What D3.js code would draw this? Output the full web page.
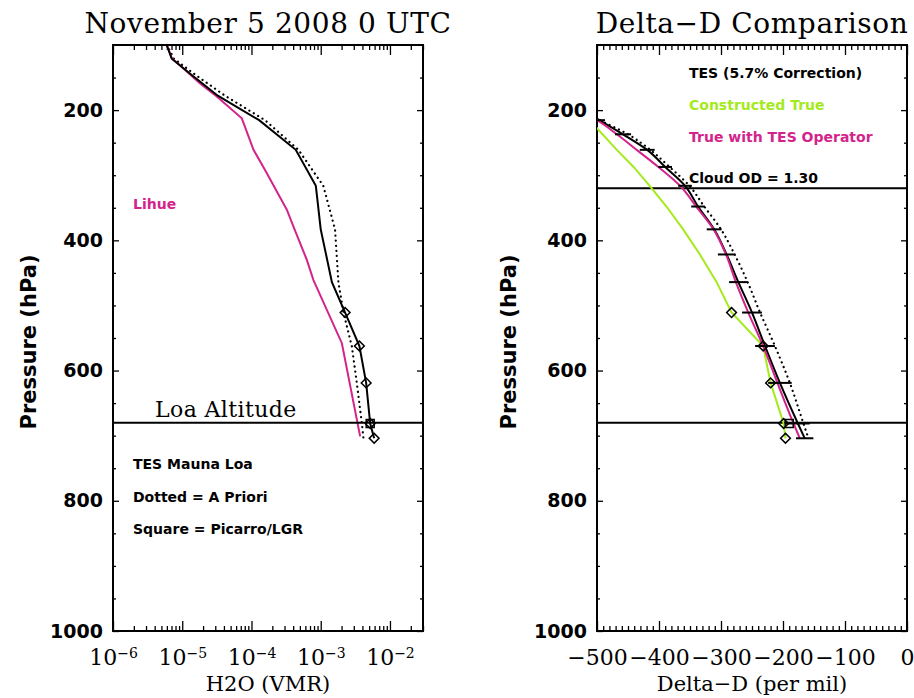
<!DOCTYPE html>
<html>
<head>
<meta charset="utf-8">
<script src="https://cdnjs.cloudflare.com/ajax/libs/d3/7.8.5/d3.min.js"></script>
<style>
body { margin: 0; background: #fff; }
.serif { font-family: "DejaVu Serif", serif; fill: #000; }
.lab { font-family: "DejaVu Sans", sans-serif; font-weight: bold; font-size: 14px; }
.ytick { font-family: "DejaVu Sans", sans-serif; font-weight: bold; font-size: 19px; fill: #000; }
.ytitle { font-family: "DejaVu Sans", sans-serif; font-weight: bold; font-size: 21px; fill: #000; }
</style>
</head>
<body>
<div id="chart"></div>
<script>
var width = 914, height = 698;
var magenta = "#d3248c", lime = "#a5ea1c";

// left panel: H2O profiles (pressure in hPa, VMR)
var tesLevels = [100, 121.15, 146.78, 177.83, 215.44, 261.02, 316.23, 383.12, 464.16, 510.90, 562.34, 618.95, 681.29, 704];
var tesH2O = [5.97e-6, 7.05e-6, 1.40e-5, 3.26e-5, 1.29e-4, 4.36e-4, 8.5e-4, 1.0e-3, 1.45e-3, 2.25e-3, 3.62e-3, 4.53e-3, 5.18e-3, 5.91e-3];
var aprioriH2O = [5.97e-6, 7.6e-6, 1.6e-5, 4.15e-5, 1.57e-4, 4.77e-4, 1.09e-3, 1.61e-3, 1.80e-3, 2.13e-3, 2.81e-3, 3.32e-3, 3.93e-3, 4.14e-3];
var lihuePressure = [100, 120, 159, 179, 212.6, 261, 292, 353, 379, 430, 461, 558, 701];
var lihueH2O = [5.97e-6, 7.05e-6, 1.81e-5, 3.15e-5, 7.25e-5, 1.07e-4, 1.57e-4, 3.24e-4, 4.04e-4, 6.3e-4, 7.85e-4, 2.02e-3, 3.71e-3];
var diamondLevels = [510.90, 562.34, 618.95, 681.29, 704];

// right panel: delta-D (per mil)
var ddLevels = [196.38, 215.44, 237.14, 261.02, 287.30, 316.23, 348.07, 383.12, 421.70, 464.16, 510.90, 562.34, 618.95, 681.29, 704];
var tesDD = [-530, -496, -458, -419, -390, -358, -337, -311, -291, -272, -250, -229, -205, -176, -165];
var tesDDErr = [10, 9, 13, 12, 11, 11, 11, 12, 14, 15, 16, 16, 19, 19, 14];
var operatorDD = [-537, -500, -468, -436, -401, -366, -340, -312, -292, -276, -256, -232, -209, -183, -173];
var aprioriDD = [-530, -495, -450, -414, -383, -351, -327, -300, -278, -257, -237, -213, -189, -167, -159];
var trueLevels = [215.44, 261.02, 287.30, 316.23, 348.07, 383.12, 421.70, 464.16, 510.90, 562.34, 618.95, 681.29, 704];
var trueDD = [-512, -468, -441, -415, -388, -361, -334, -307, -283, -232, -220, -199, -196];

var picarroPressure = 681.29, picarroH2O = 5.18e-3, picarroDD = -190;
var loaPressure = 680, cloudPressure = 320;

var xTicksH2O = [1e-6, 1e-5, 1e-4, 1e-3, 1e-2];
var xTicksDD = [-500, -400, -300, -200, -100, 0];
var yTicks = [200, 400, 600, 800, 1000];

var svg = d3.select("#chart").append("svg")
    .attr("width", width)
    .attr("height", height);

var y = d3.scaleLinear().domain([100, 1000]).range([45, 631]);
var xL = d3.scaleLog().domain([1e-6, 3e-2]).range([113, 423]);
var xR = d3.scaleLinear().domain([-500, 0]).range([597, 907]);

var yMinor = d3.range(150, 1000, 50).filter(d => yTicks.indexOf(d) < 0);
var xMinorL = [];
xTicksH2O.forEach(function(e) {
    for (var k = 2; k <= 9; k++) if (k * e <= 3e-2) xMinorL.push(k * e);
});
var xMinorR = d3.range(-490, 0, 10).filter(d => d % 100 !== 0);

function frame(x, x0, x1, majorX, minorX, fmt) {
    var g = svg.append("g");
    g.append("g").attr("transform", "translate(0,631)")
        .call(d3.axisBottom(x).tickValues(minorX).tickSizeInner(-5).tickSizeOuter(0).tickFormat(""));
    var maj = g.append("g").attr("transform", "translate(0,631)")
        .call(d3.axisBottom(x).tickValues(majorX).tickSizeInner(-10).tickSizeOuter(0).tickPadding(18).tickFormat(fmt));
    g.append("g").attr("transform", "translate(0,45)")
        .call(d3.axisTop(x).tickValues(minorX).tickSizeInner(-5).tickSizeOuter(0).tickFormat(""));
    g.append("g").attr("transform", "translate(0,45)")
        .call(d3.axisTop(x).tickValues(majorX).tickSizeInner(-10).tickSizeOuter(0).tickFormat(""));
    g.append("g").attr("transform", "translate(" + x0 + ",0)")
        .call(d3.axisLeft(y).tickValues(yMinor).tickSizeInner(-3).tickSizeOuter(0).tickFormat(""));
    g.append("g").attr("transform", "translate(" + x0 + ",0)")
        .attr("class", "ytick")
        .call(d3.axisLeft(y).tickValues(yTicks).tickSizeInner(-6).tickSizeOuter(0).tickPadding(10).tickFormat(d3.format("d")));
    g.append("g").attr("transform", "translate(" + x1 + ",0)")
        .call(d3.axisRight(y).tickValues(yMinor).tickSizeInner(-3).tickSizeOuter(0).tickFormat(""));
    g.append("g").attr("transform", "translate(" + x1 + ",0)")
        .call(d3.axisRight(y).tickValues(yTicks).tickSizeInner(-6).tickSizeOuter(0).tickFormat(""));
    g.selectAll(".domain").remove();
    g.selectAll(".tick line").attr("stroke", "#000").attr("stroke-width", 1.3);
    g.selectAll(".ytick").attr("font-family", null).attr("font-size", null);
    maj.selectAll("text")
        .attr("class", "serif")
        .attr("font-size", 22);
    maj.attr("font-family", null);
    g.append("rect")
        .attr("x", x0).attr("y", 45)
        .attr("width", x1 - x0).attr("height", 586)
        .attr("fill", "none").attr("stroke", "#000").attr("stroke-width", 2);
    return maj;
}

var axL = frame(xL, 113, 423, xTicksH2O, xMinorL, "");
axL.selectAll("text").each(function(d) {
    var t = d3.select(this);
    t.append("tspan").text("10");
    t.append("tspan").attr("dy", "-0.45em").attr("font-size", 14).text("\u2212" + Math.round(-Math.log10(d)));
});
frame(xR, 597, 907, xTicksDD, xMinorR, d => d === 0 ? "0" : "\u2212" + Math.abs(d));

// clip regions
var defs = svg.append("defs");
defs.append("clipPath").attr("id", "clipL").append("rect")
    .attr("x", 113).attr("y", 45).attr("width", 310).attr("height", 586);
defs.append("clipPath").attr("id", "clipR").append("rect")
    .attr("x", 597).attr("y", 45).attr("width", 310).attr("height", 586);

var gL = svg.append("g").attr("clip-path", "url(#clipL)");
var gR = svg.append("g").attr("clip-path", "url(#clipR)");

var diamond = d3.symbol().type(d3.symbolSquare).size(48);
var square = d3.symbol().type(d3.symbolSquare).size(64);

// ---- left panel ----
var lineL = d3.line().x(d => xL(d[1])).y(d => y(d[0]));

gL.append("path")
    .datum(d3.zip(tesLevels, aprioriH2O))
    .attr("d", lineL)
    .attr("fill", "none").attr("stroke", "#000").attr("stroke-width", 2.2)
    .attr("stroke-linecap", "round").attr("stroke-dasharray", "0.1,5");
gL.append("path")
    .datum(d3.zip(lihuePressure, lihueH2O))
    .attr("d", lineL)
    .attr("fill", "none").attr("stroke", magenta).attr("stroke-width", 2);
gL.append("path")
    .datum(d3.zip(tesLevels, tesH2O))
    .attr("d", lineL)
    .attr("fill", "none").attr("stroke", "#000").attr("stroke-width", 2);

gL.append("line")
    .attr("x1", 113).attr("x2", 423)
    .attr("y1", y(loaPressure)).attr("y2", y(loaPressure))
    .attr("stroke", "#000").attr("stroke-width", 2);

gL.selectAll(".dia")
    .data(diamondLevels)
    .enter().append("path")
    .attr("d", diamond)
    .attr("transform", d => "translate(" + xL(tesH2O[tesLevels.indexOf(d)]) + "," + y(d) + ")rotate(45)")
    .attr("fill", "none").attr("stroke", "#000").attr("stroke-width", 1.5);
gL.append("path")
    .attr("d", square)
    .attr("transform", "translate(" + xL(picarroH2O) + "," + y(picarroPressure) + ")")
    .attr("fill", "none").attr("stroke", "#000").attr("stroke-width", 1.5);

// ---- right panel ----
var lineR = d3.line().x(d => xR(d[1])).y(d => y(d[0])).curve(d3.curveMonotoneY);

gR.append("line")
    .attr("x1", 597).attr("x2", 907)
    .attr("y1", y(cloudPressure)).attr("y2", y(cloudPressure))
    .attr("stroke", "#000").attr("stroke-width", 2);
gR.append("line")
    .attr("x1", 597).attr("x2", 907)
    .attr("y1", y(loaPressure)).attr("y2", y(loaPressure))
    .attr("stroke", "#000").attr("stroke-width", 2);

gR.append("path")
    .datum(d3.zip(ddLevels, aprioriDD))
    .attr("d", lineR)
    .attr("fill", "none").attr("stroke", "#000").attr("stroke-width", 2.2)
    .attr("stroke-linecap", "round").attr("stroke-dasharray", "0.1,5");
gR.append("path")
    .datum(d3.zip(trueLevels, trueDD))
    .attr("d", d3.line().x(d => xR(d[1])).y(d => y(d[0])))
    .attr("fill", "none").attr("stroke", lime).attr("stroke-width", 2);
gR.append("path")
    .datum(d3.zip(ddLevels, tesDD))
    .attr("d", lineR)
    .attr("fill", "none").attr("stroke", "#000").attr("stroke-width", 2);
gR.append("path")
    .datum(d3.zip(ddLevels, operatorDD))
    .attr("d", lineR)
    .attr("fill", "none").attr("stroke", magenta).attr("stroke-width", 2);

// TES error bars
gR.selectAll(".err")
    .data(d3.zip(ddLevels, tesDD, tesDDErr))
    .enter().append("line")
    .attr("x1", d => xR(d[1] - d[2]))
    .attr("x2", d => xR(d[1] + d[2]))
    .attr("y1", d => y(d[0])).attr("y2", d => y(d[0]))
    .attr("stroke", "#000").attr("stroke-width", 2);

gR.selectAll(".dia")
    .data(d3.zip(trueLevels, trueDD).filter(d => d[0] > 500))
    .enter().append("path")
    .attr("d", diamond)
    .attr("transform", d => "translate(" + xR(d[1]) + "," + y(d[0]) + ")rotate(45)")
    .attr("fill", "none").attr("stroke", "#000").attr("stroke-width", 1.5);
gR.append("path")
    .attr("d", square)
    .attr("transform", "translate(" + xR(picarroDD) + "," + y(picarroPressure) + ")")
    .attr("fill", "none").attr("stroke", "#000").attr("stroke-width", 1.5);

// titles and labels
svg.append("text").attr("class", "serif")
    .attr("x", 268).attr("y", 33).attr("text-anchor", "middle")
    .attr("font-size", 28).attr("letter-spacing", 0.6).text("November 5 2008 0 UTC");
svg.append("text").attr("class", "serif")
    .attr("x", 752).attr("y", 33).attr("text-anchor", "middle")
    .attr("font-size", 28).attr("letter-spacing", 0.6).text("Delta\u2212D Comparison");

svg.append("text").attr("class", "serif")
    .attr("x", 268).attr("y", 691).attr("text-anchor", "middle")
    .attr("font-size", 21).text("H2O (VMR)");
svg.append("text").attr("class", "serif")
    .attr("x", 752).attr("y", 691).attr("text-anchor", "middle")
    .attr("font-size", 21).text("Delta\u2212D (per mil)");

[36, 516].forEach(function(cx) {
    svg.append("text").attr("class", "ytitle")
        .attr("transform", "translate(" + cx + ",342)rotate(-90)")
        .attr("text-anchor", "middle")
        .text("Pressure (hPa)");
});

svg.append("text").attr("class", "serif")
    .attr("x", 155).attr("y", 417)
    .attr("font-size", 22).attr("letter-spacing", 0.4).text("Loa Altitude");

svg.append("text").attr("class", "lab")
    .attr("x", 133).attr("y", 209).attr("fill", magenta).text("Lihue");

var notes = ["TES Mauna Loa", "Dotted = A Priori", "Square = Picarro/LGR"];
svg.selectAll(".note")
    .data(notes)
    .enter().append("text")
    .attr("class", "lab")
    .attr("x", 133)
    .attr("y", (d, i) => 469 + i * 32.5)
    .text(d => d);

var legend = [["TES (5.7% Correction)", "#000"], ["Constructed True", lime], ["True with TES Operator", magenta]];
svg.selectAll(".leg")
    .data(legend)
    .enter().append("text")
    .attr("class", "lab")
    .attr("x", 689)
    .attr("y", (d, i) => 78 + i * 32)
    .attr("fill", d => d[1])
    .text(d => d[0]);

svg.append("text").attr("class", "lab")
    .attr("x", 689).attr("y", 183)
    .text("Cloud OD = 1.30");
</script>
</body>
</html>
